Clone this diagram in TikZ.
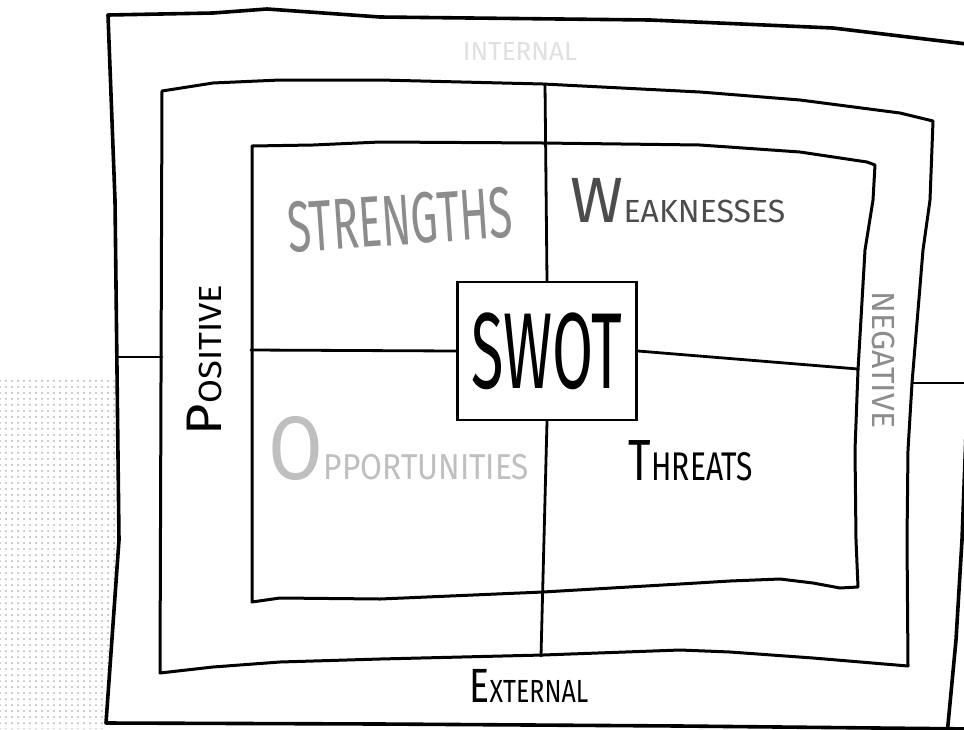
\documentclass[tikz,border=0pt]{standalone}
\usepackage{fontspec}
\setmainfont{Fira Sans}
\usetikzlibrary{patterns}
\newcommand{\capfirst}[4]{{\fontsize{#1}{#1}\selectfont #3}{\fontsize{#2}{#2}\selectfont #4}}
\begin{document}
\begin{tikzpicture}[x=0.5pt,y=-0.5pt,
  frame/.style={line width=1.8pt,line join=round,line cap=round},
  midframe/.style={line width=1.5pt,line join=round,line cap=round},
  conn/.style={line width=1.4pt,line cap=round},
  lbl/.style={inner sep=0pt,anchor=center},
  swotbox/.style={draw,line width=1.4pt,minimum width=89.5pt,minimum height=69pt,inner sep=0pt,fill=white}]
\path[use as bounding box] (0,0) rectangle (964,729);
\clip (0,0) rectangle (964,729);
\fill[white] (0,0) rectangle (964,729);
% scan texture
\fill[pattern=dots,pattern color=black!30] (0,380) -- (117,380) -- (119,540) -- (106,723) -- (106,729) -- (0,729) -- cycle;
% outer frame
\draw[frame] (975,45) -- (833,28) -- (650,20) -- (380,17) -- (267,9) -- (213,13) -- (108,15)
  -- (115,200) -- (119,540) -- (106,723) -- (380,724) -- (680,726) -- (975,729);
\draw[frame] (975,45) -- (968,380) -- (962,540) -- (956,640) -- (947,735);
% middle frame
\draw[midframe] (162,91) -- (213,83) -- (280,80) -- (380,80) -- (543,84) -- (700,92) -- (800,100)
  -- (900,113) -- (933,121) -- (930,200) -- (923,250) -- (912,383) -- (908,450) -- (907,540)
  -- (908,666) -- (813,658) -- (730,652) -- (680,650) -- (543,655) -- (380,659) -- (280,662)
  -- (213,667) -- (160,673) -- cycle;
% inner frame
\draw[midframe] (252,146) -- (313,145) -- (380,142) -- (543,143) -- (700,145) -- (800,152)
  -- (867,162) -- (875,165) -- (873,200) -- (865,250) -- (858,370) -- (855,450) -- (856,540)
  -- (858,587) -- (840,588) -- (813,583) -- (780,579) -- (730,581) -- (680,584) -- (543,592)
  -- (380,599) -- (280,598) -- (252,602) -- cycle;
% centre box
\node[swotbox] (swot) at (547,351) {\fontsize{54}{54}\selectfont\scalebox{0.55}[1]{SWOT}};
% connector end points
\coordinate (vt) at (545,84);
\coordinate (vb) at (541,656);
\coordinate (hl) at (251,350);
\coordinate (hr) at (858,369);
\coordinate (hLa) at (117,357);
\coordinate (hLb) at (162,357);
\coordinate (hRa) at (912,383);
\coordinate (hRb) at (975,383);
\draw[conn] (vt) -- (swot.north);
\draw[conn] (swot.south) -- (vb);
\draw[conn] (hl) -- (swot.west);
\draw[conn] (swot.east) -- (hr);
\draw[conn] (hLa) -- (hLb);
\draw[conn] (hRa) -- (hRb);
% quadrant labels
\node[lbl,text=black!45,rotate=4] (str) at (400,220) {\fontsize{36}{36}\selectfont\scalebox{0.6}[1]{STRENGTHS}};
\node[lbl,text=black!70] (wea) at (678,201) {\capfirst{32}{16}{W}{EAKNESSES}};
\node[lbl,text=black!25] (opp) at (399,448) {\scalebox{0.88}[1]{\capfirst{45}{18}{O}{PPORTUNITIES}}};
\node[lbl,text=black] (thr) at (691,461) {\scalebox{0.75}[1]{\capfirst{29}{20}{T}{HREATS}}};
% side labels
\node[lbl,text=black!12] (int) at (520,52) {\fontsize{13}{13}\selectfont INTERNAL};
\node[lbl,text=black] (ext) at (529,686) {\scalebox{0.78}[1]{\capfirst{24}{16}{E}{XTERNAL}}};
\node[lbl,text=black,rotate=90] (pos) at (204,360) {\scalebox{1.08}[1]{\capfirst{25}{16}{P}{OSITIVE}}};
\node[lbl,text=black!45,rotate=-90] (neg) at (884,360) {\fontsize{16}{16}\selectfont NEGATIVE};
\end{tikzpicture}
\end{document}
